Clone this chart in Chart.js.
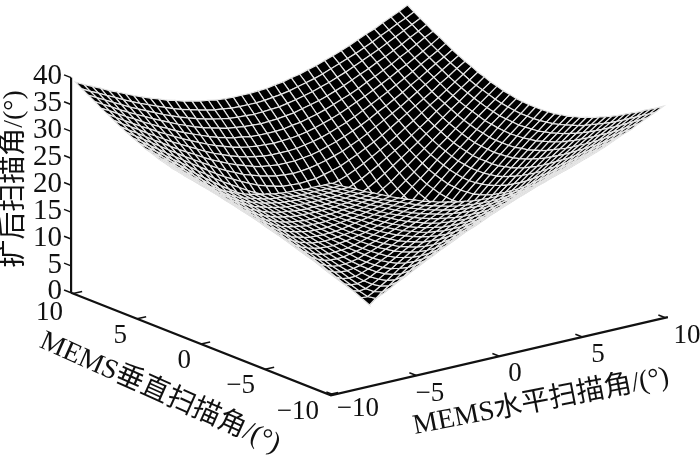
<!DOCTYPE html>
<html>
<head>
<meta charset="utf-8">
<style>
  html, body { margin: 0; padding: 0; background: #fff; }
  canvas { display: block; }
</style>
<script src="https://cdn.jsdelivr.net/npm/chart.js@4"></script>
</head>
<body>
<canvas id="surfaceChart" width="700" height="460"></canvas>
<script>
// grid of the mesh, same for both scan angles
const scanGrid = [-10,-9.5,-9,-8.5,-8,-7.5,-7,-6.5,-6,-5.5,-5,-4.5,-4,-3.5,-3,-2.5,-2,-1.5,-1,-0.5,0,
  0.5,1,1.5,2,2.5,3,3.5,4,4.5,5,5.5,6,6.5,7,7.5,8,8.5,9,9.5,10];

// expanded angle, one quadrant (centre -> edge), the surface is mirrored in both angles
const zQuadrant = [
  [0,1.7,3.4,5.0,6.6,8.2,9.8,11.4,12.9,14.4,15.9,17.4,18.8,20.3,21.7,23.0,24.4,25.7,27.0,28.3,29.6],
  [1.7,2.4,3.8,5.3,6.8,8.4,10.0,11.5,13.0,14.5,16.0,17.5,18.9,20.3,21.7,23.1,24.4,25.8,27.1,28.3,29.6],
  [3.4,3.8,4.7,6.0,7.4,8.9,10.3,11.8,13.3,14.8,16.2,17.6,19.1,20.5,21.8,23.2,24.5,25.9,27.2,28.4,29.7],
  [5.0,5.3,6.0,7.0,8.2,9.6,10.9,12.3,13.7,15.2,16.6,18.0,19.4,20.7,22.1,23.4,24.8,26.1,27.3,28.6,29.8],
  [6.6,6.8,7.4,8.2,9.3,10.5,11.7,13.0,14.3,15.7,17.0,18.4,19.8,21.1,22.4,23.7,25.0,26.3,27.6,28.8,30.1],
  [8.2,8.4,8.9,9.6,10.5,11.5,12.6,13.8,15.1,16.4,17.6,18.9,20.3,21.6,22.8,24.1,25.4,26.7,27.9,29.1,30.3],
  [9.8,10.0,10.3,10.9,11.7,12.6,13.6,14.8,15.9,17.1,18.3,19.6,20.8,22.1,23.3,24.6,25.8,27.1,28.3,29.5,30.7],
  [11.4,11.5,11.8,12.3,13.0,13.8,14.8,15.8,16.8,18.0,19.1,20.3,21.5,22.7,23.9,25.1,26.3,27.5,28.7,29.9,31.0],
  [12.9,13.0,13.3,13.7,14.3,15.1,15.9,16.8,17.8,18.9,20.0,21.1,22.2,23.4,24.5,25.7,26.9,28.0,29.2,30.3,31.5],
  [14.4,14.5,14.8,15.2,15.7,16.4,17.1,18.0,18.9,19.9,20.9,21.9,23.0,24.1,25.2,26.4,27.5,28.6,29.7,30.8,31.9],
  [15.9,16.0,16.2,16.6,17.0,17.6,18.3,19.1,20.0,20.9,21.8,22.8,23.9,24.9,26.0,27.1,28.1,29.2,30.3,31.4,32.5],
  [17.4,17.5,17.6,18.0,18.4,18.9,19.6,20.3,21.1,21.9,22.8,23.8,24.8,25.8,26.8,27.8,28.8,29.9,30.9,32.0,33.0],
  [18.8,18.9,19.1,19.4,19.8,20.3,20.8,21.5,22.2,23.0,23.9,24.8,25.7,26.6,27.6,28.6,29.6,30.6,31.6,32.6,33.6],
  [20.3,20.3,20.5,20.7,21.1,21.6,22.1,22.7,23.4,24.1,24.9,25.8,26.6,27.5,28.4,29.4,30.3,31.3,32.3,33.2,34.2],
  [21.7,21.7,21.8,22.1,22.4,22.8,23.3,23.9,24.5,25.2,26.0,26.8,27.6,28.4,29.3,30.2,31.1,32.1,33.0,33.9,34.9],
  [23.0,23.1,23.2,23.4,23.7,24.1,24.6,25.1,25.7,26.4,27.1,27.8,28.6,29.4,30.2,31.1,31.9,32.8,33.7,34.6,35.6],
  [24.4,24.4,24.5,24.8,25.0,25.4,25.8,26.3,26.9,27.5,28.1,28.8,29.6,30.3,31.1,31.9,32.8,33.6,34.5,35.4,36.2],
  [25.7,25.8,25.9,26.1,26.3,26.7,27.1,27.5,28.0,28.6,29.2,29.9,30.6,31.3,32.1,32.8,33.6,34.4,35.3,36.1,37.0],
  [27.0,27.1,27.2,27.3,27.6,27.9,28.3,28.7,29.2,29.7,30.3,30.9,31.6,32.3,33.0,33.7,34.5,35.3,36.1,36.9,37.7],
  [28.3,28.3,28.4,28.6,28.8,29.1,29.5,29.9,30.3,30.8,31.4,32.0,32.6,33.2,33.9,34.6,35.4,36.1,36.9,37.6,38.4],
  [29.6,29.6,29.7,29.8,30.1,30.3,30.7,31.0,31.5,31.9,32.5,33.0,33.6,34.2,34.9,35.6,36.2,37.0,37.7,38.4,39.2]
];

const hTicks = [-10,-5,0,5,10];
const vTicks = [10,5,0,-5,-10];
const zTicks = [0,5,10,15,20,25,30,35,40];
const hTitle = 'MEMS水平扫描角/(°)';
const vTitle = 'MEMS垂直扫描角/(°)';
const zTitle = '扩后扫描角/(°)';

const axisLimit = 10.15;
const tickLen = 0.55;

// orthographic view of the box, returns a point on the (hidden) x/y scales
function project(h, v, z) {
  return {
    x: 369.5 + 16.6 * h - 12.8 * v,
    y: 305 - 3.85 * h - 5.05 * v - 5.38 * z
  };
}

function surfaceZ(i, j) {
  return zQuadrant[Math.abs(i - 20)][Math.abs(j - 20)];
}

// one dataset per mesh cell, near cells first because dataset 0 is painted last
function buildCells() {
  const cells = [];
  for (let i = 0; i < scanGrid.length - 1; i++) {
    for (let j = 0; j < scanGrid.length - 1; j++) {
      const corners = [[i, j], [i + 1, j], [i + 1, j + 1], [i, j + 1], [i, j]];
      const pts = corners.map(c => project(scanGrid[c[0]], scanGrid[c[1]], surfaceZ(c[0], c[1])));
      let depth = 0;
      corners.slice(0, 4).forEach(c => {
        depth += 12.4 * scanGrid[c[0]] + 15.8 * scanGrid[c[1]] - 1.6 * surfaceZ(c[0], c[1]);
      });
      cells.push({ depth: depth, pts: pts });
    }
  }
  cells.sort((a, b) => a.depth - b.depth);
  return cells.map(c => ({
    data: c.pts,
    showLine: true,
    fill: 'shape',
    backgroundColor: '#000',
    borderColor: '#e6e6e6',
    borderWidth: 1.2,
    pointRadius: 0,
    tension: 0,
    clip: false
  }));
}

function axisLine(pts, width) {
  return {
    data: pts,
    showLine: true,
    fill: false,
    borderColor: '#111',
    borderWidth: width,
    pointRadius: 0,
    clip: false
  };
}

function buildAxes() {
  const L = axisLimit;
  const sets = [
    axisLine([project(-L, L, 0), project(-L, -L, 0), project(L, -L, 0)], 2.2),
    axisLine([project(-L, L, 0), project(-L, L, 40)], 2.2)
  ];
  hTicks.forEach(h => sets.push(axisLine([project(h, -L, 0), project(h, -L + tickLen, 0)], 1.5)));
  vTicks.forEach(v => sets.push(axisLine([project(-L, v, 0), project(-L + tickLen, v, 0)], 1.5)));
  zTicks.forEach(z => sets.push(axisLine([project(-L, L, z), project(-L, L + tickLen, z)], 1.5)));
  return sets;
}

function tickText(v) {
  return v < 0 ? '\u2212' + Math.abs(v) : String(v);
}

// tick labels and the slanted axis titles
const axisText = {
  id: 'axisText',
  afterDatasetsDraw(chart) {
    const ctx = chart.ctx;
    const sx = chart.scales.x, sy = chart.scales.y;
    const L = axisLimit;
    const at = p => ({ x: sx.getPixelForValue(p.x), y: sy.getPixelForValue(p.y) });
    ctx.save();
    ctx.fillStyle = '#111';
    ctx.textBaseline = 'middle';

    ctx.font = '29px "Liberation Serif"';
    ctx.textAlign = 'right';
    zTicks.forEach(z => {
      const p = at(project(-L, L, z));
      ctx.fillText(tickText(z), p.x - 9, p.y - 1);
    });

    ctx.font = '27px "Liberation Serif"';
    vTicks.forEach(v => {
      const p = at(project(-L, v, 0));
      ctx.fillText(tickText(v), p.x - 10, p.y + (v === 10 ? 19 : 17));
    });

    ctx.textAlign = 'center';
    hTicks.forEach(h => {
      const p = at(project(h, -L, 0));
      const wide = h === -10 ? 9 : (h === 10 ? 6 : (h === -5 ? -2 : 0));
      ctx.fillText(tickText(h), p.x + 15.5 + wide, p.y + (h === -10 ? 14 : 18));
    });

    const titleFont = '"Liberation Serif", "Noto Sans CJK SC"';
    ctx.font = '28px ' + titleFont;

    ctx.save();
    ctx.translate(15, 179);
    ctx.rotate(-Math.PI / 2);
    ctx.fillText(zTitle, 0, 0);
    ctx.restore();

    ctx.save();
    ctx.translate(160, 393);
    ctx.rotate(24 * Math.PI / 180);
    ctx.fillText(vTitle, 0, 0);
    ctx.restore();

    ctx.save();
    ctx.translate(541, 402);
    ctx.rotate(-11 * Math.PI / 180);
    ctx.fillText(hTitle, 0, 0);
    ctx.restore();

    ctx.restore();
  }
};

const ctxSurface = document.getElementById('surfaceChart');
new Chart(ctxSurface, {
  type: 'scatter',
  data: { datasets: buildCells().concat(buildAxes()) },
  plugins: [axisText],
  options: {
    responsive: false,
    animation: false,
    layout: { padding: 0 },
    plugins: {
      legend: { display: false },
      tooltip: { enabled: false },
      title: { display: false }
    },
    scales: {
      x: { type: 'linear', min: 0, max: 700, display: false },
      y: { type: 'linear', min: 0, max: 460, reverse: true, display: false }
    }
  }
});
</script>
</body>
</html>
